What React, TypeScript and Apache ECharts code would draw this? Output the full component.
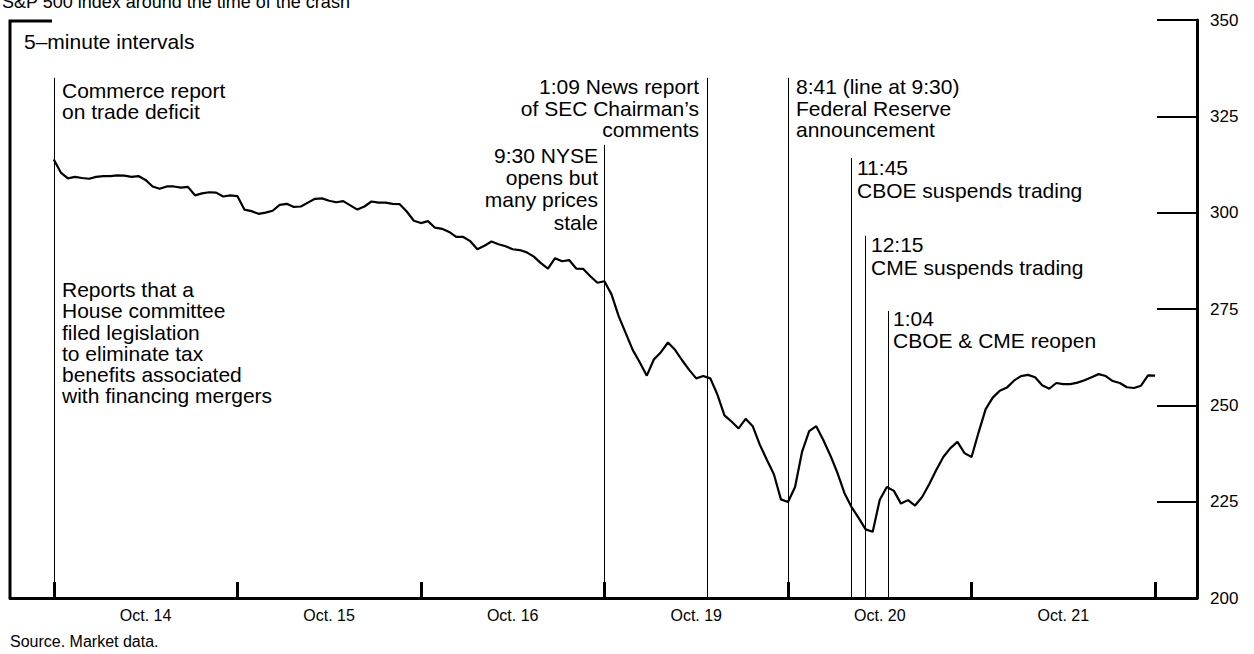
import React, { useEffect, useRef } from "react";
import * as echarts from "echarts";

const dayLabels = ["Oct. 14", "Oct. 15", "Oct. 16", "Oct. 19", "Oct. 20", "Oct. 21"];
const minutesPerDay = 390;
const stepMinutes = 15;

const oct14 = [313.8, 310.4, 308.9, 309.3, 309.0, 308.8, 309.3, 309.5, 309.5, 309.7, 309.6, 309.3, 309.5, 308.5, 306.8, 306.2, 306.8, 306.8, 306.5, 306.7, 304.5, 305.0, 305.3, 305.2, 304.2, 304.5];
const oct15 = [304.3, 300.8, 300.4, 299.7, 300.0, 300.5, 302.0, 302.3, 301.5, 301.6, 302.6, 303.6, 303.7, 303.1, 302.7, 303.0, 301.9, 300.8, 301.6, 302.9, 302.6, 302.6, 302.3, 302.2, 300.3, 297.9];
const oct16 = [297.3, 297.8, 296.1, 295.8, 295.0, 293.7, 293.7, 292.6, 290.5, 291.4, 292.5, 291.8, 291.3, 290.5, 290.3, 289.7, 288.6, 286.9, 285.5, 288.2, 287.4, 287.7, 285.5, 285.4, 283.5, 281.8];
const oct19 = [282.2, 278.8, 273.2, 268.8, 264.4, 261.2, 257.7, 261.9, 263.8, 266.3, 264.4, 261.7, 259.2, 257.0, 257.6, 257.0, 252.8, 247.4, 245.8, 244.0, 246.5, 244.6, 239.8, 235.9, 232.1, 225.6];
const oct20 = [224.9, 228.8, 238.0, 243.3, 244.6, 241.0, 237.0, 232.5, 227.2, 223.6, 220.8, 217.8, 217.2, 225.5, 228.8, 227.8, 224.5, 225.4, 224.0, 226.2, 229.5, 233.2, 236.6, 238.9, 240.5, 237.6];
const oct21 = [236.6, 243.0, 249.0, 252.0, 253.8, 254.6, 256.4, 257.6, 257.9, 257.3, 255.2, 254.3, 255.8, 255.5, 255.5, 255.9, 256.5, 257.3, 258.1, 257.6, 256.3, 255.8, 254.7, 254.5, 255.1, 257.8, 257.7];

// event lines: minutes since Oct 14 9:30 (trading time), and the value where each line stops
const eventTimes = [0, 1170, 1389, 1560, 1695, 1725, 1774];
const eventTops = [335, 317.6, 335, 335, 314.2, 294, 274.5];

const FONT = '"Liberation Sans", Arial, Helvetica, sans-serif';

export default function App() {
  const ref = useRef<HTMLDivElement>(null);
  useEffect(() => {
    document.body.style.margin = "0";
    if (!ref.current) return;
    const chart = echarts.init(ref.current, undefined, { renderer: "svg" });
    const values = [...oct14, ...oct15, ...oct16, ...oct19, ...oct20, ...oct21];
    const data = values.map((v, i) => [i * stepMinutes, v]);
    const boundaries = dayLabels.map((_, i) => i * minutesPerDay).concat([dayLabels.length * minutesPerDay]);
    const centers = dayLabels.map((_, i) => i * minutesPerDay + minutesPerDay / 2);

    const txt = (text: string, x: number, y: number, align: string, lh: number, size = 21) => ({
      type: "text",
      silent: true,
      style: {
        text,
        x,
        y,
        fill: "#000",
        font: `${size}px ${FONT}`,
        textAlign: align,
        align,
        textVerticalAlign: "top",
        verticalAlign: "top",
        lineHeight: lh,
      },
    });

    chart.setOption({
      animation: false,
      backgroundColor: "#fff",
      grid: { left: 10, right: 57, top: 20, bottom: 56, containLabel: false },
      xAxis: {
        type: "value",
        min: -93,
        max: 2429,
        axisLine: { show: true, onZero: false, lineStyle: { color: "#000", width: 3 } },
        axisTick: { show: true, inside: true, length: 16, lineStyle: { color: "#000", width: 3 }, customValues: boundaries },
        axisLabel: {
          show: true,
          customValues: centers,
          formatter: (v: number) => dayLabels[Math.round((v - minutesPerDay / 2) / minutesPerDay)] || "",
          color: "#000",
          fontSize: 16,
          fontFamily: FONT,
          margin: 9,
        },
        splitLine: { show: false },
      },
      yAxis: {
        type: "value",
        position: "right",
        min: 200,
        max: 350,
        interval: 25,
        axisLine: { show: true, onZero: false, lineStyle: { color: "#000", width: 3 } },
        axisTick: { show: true, inside: true, length: 40, lineStyle: { color: "#000", width: 2 } },
        axisLabel: { color: "#000", fontSize: 17, fontFamily: FONT, margin: 13 },
        splitLine: { show: false },
      },
      series: [
        {
          type: "line",
          data,
          showSymbol: false,
          symbol: "none",
          smooth: false,
          lineStyle: { color: "#000", width: 2.2 },
          markLine: {
            silent: true,
            symbol: ["none", "none"],
            label: { show: false },
            lineStyle: { color: "#000", width: 1, type: "solid" },
            data: eventTimes.map((t, k) => [{ coord: [t, eventTops[k]] }, { coord: [t, 200] }]),
          },
        },
      ],
      graphic: [
        {
          type: "polyline",
          silent: true,
          shape: { points: [[10, 598], [10, 21], [52, 21]] },
          style: { stroke: "#000", lineWidth: 3, fill: "none" },
        },
        {
          type: "text",
          silent: true,
          style: {
            text: "S&P 500 index around the time of the crash",
            x: 2,
            y: 11,
            fill: "#000",
            font: `18px ${FONT}`,
            textVerticalAlign: "bottom",
            verticalAlign: "bottom",
          },
        },
        txt("5–minute intervals", 24, 31, "left", 21),
        txt("Commerce report\non trade deficit", 62, 80, "left", 21),
        txt("Reports that a\nHouse committee\nfiled legislation\nto eliminate tax\nbenefits associated\nwith financing mergers", 62, 279, "left", 21.2),
        txt("9:30 NYSE\nopens but\nmany prices\nstale", 598, 144, "right", 22.3),
        txt("1:09 News report\nof SEC Chairman’s\ncomments", 699, 76, "right", 21.5),
        txt("8:41 (line at 9:30)\nFederal Reserve\nannouncement", 796, 76, "left", 21.5),
        txt("11:45\nCBOE suspends trading", 857, 156, "left", 23),
        txt("12:15\nCME suspends trading", 871, 233, "left", 23),
        txt("1:04\nCBOE & CME reopen", 893, 307, "left", 22),
        txt("Source. Market data.", 10, 632, "left", 18, 16),
      ],
    });
    return () => chart.dispose();
  }, []);
  return <div ref={ref} style={{ width: 1254, height: 654 }} />;
}
